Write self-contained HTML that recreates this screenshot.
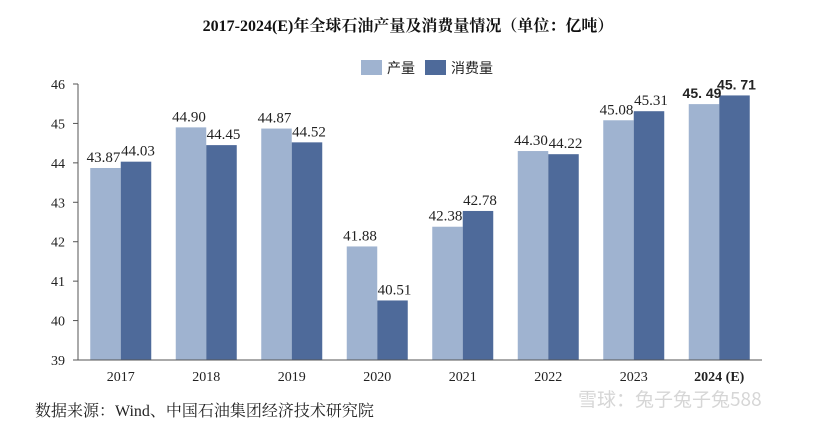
<!DOCTYPE html>
<html><head><meta charset="utf-8"><style>
body{margin:0;background:#fff;width:816px;height:425px;overflow:hidden;font-family:"Liberation Serif","Noto Serif CJK SC",serif;}
</style></head><body>
<svg width="816" height="425" xmlns="http://www.w3.org/2000/svg">
<text x="408" y="31" text-anchor="middle" font-size="16" font-weight="bold" fill="#111">2017-2024(E)年全球石油产量及消费量情况（单位：亿吨）</text>
<g>
<rect x="361" y="60" width="21" height="15" fill="#9fb3d0"/>
<text x="387" y="73" font-size="14" fill="#222" font-family="Noto Sans CJK SC, sans-serif">产量</text>
<rect x="425" y="60" width="21" height="15" fill="#4e6a9a"/>
<text x="451" y="73" font-size="14" fill="#222" font-family="Noto Sans CJK SC, sans-serif">消费量</text>
</g>
<g id="plot"></g>
<text x="35" y="416" font-size="16" fill="#222" font-family="Liberation Serif, Noto Serif CJK SC, serif">数据来源：Wind、中国石油集团经济技术研究院</text>
<text x="578" y="406" font-size="19" fill="#d6d6d6" font-family="Noto Sans CJK SC, sans-serif">雪球：兔子兔子兔588</text>
</svg>
<script>
const categories=["2017","2018","2019","2020","2021","2022","2023","2024(E)"];
const production=[43.87,44.90,44.87,41.88,42.38,44.30,45.08,45.49];
const consumption=[44.03,44.45,44.52,40.51,42.78,44.22,45.31,45.71];
const yTicks=[39,40,41,42,43,44,45,46];
const NS="http://www.w3.org/2000/svg";
const g=document.getElementById('plot');
const x0=78,x1=762,yTop=84,yBot=360,ymin=39,ymax=46;
const band=(x1-x0)/categories.length,bw=30.5;
const y=v=>yBot-(v-ymin)/(ymax-ymin)*(yBot-yTop);
const cx=i=>x0+band*(i+0.5);
function mk(t,a){const e=document.createElementNS(NS,t);for(const k in a)e.setAttribute(k,a[k]);g.appendChild(e);return e;}
yTicks.forEach(v=>{
 const t=mk('text',{x:65,y:y(v)+5,'text-anchor':'end','font-size':14,fill:'#222'});t.textContent=v;
 
 
 const l=mk('line',{x1:x0-5,x2:x0,y1:y(v),y2:y(v),stroke:'#555'});
 
 
});
categories.forEach((c,i)=>{
 const last=i===categories.length-1;
 const p=mk('rect',{x:cx(i)-bw,y:y(production[i]),width:bw,height:yBot-y(production[i]),fill:'#9fb3d0'});
 
 
 const q=mk('rect',{x:cx(i),y:y(consumption[i]),width:bw,height:yBot-y(consumption[i]),fill:'#4e6a9a'});
 
 
 const fam=last?'Liberation Sans, sans-serif':'Liberation Serif, serif';
 const fs=last?14:15;
 const lp=mk('text',{x:cx(i)-bw/2-2,y:y(production[i])-6,'text-anchor':'middle','font-size':fs,fill:'#222','font-weight':last?'bold':'normal','font-family':fam});
 lp.textContent=last?production[i].toFixed(2).replace('.','. '):production[i].toFixed(2);
 
 
 const lc=mk('text',{x:cx(i)+bw/2+2,y:y(consumption[i])-6,'text-anchor':'middle','font-size':fs,fill:'#222','font-weight':last?'bold':'normal','font-family':fam});
 lc.textContent=last?consumption[i].toFixed(2).replace('.','. '):consumption[i].toFixed(2);
 
 
 const xl=mk('text',{x:cx(i),y:381,'text-anchor':'middle','font-size':14,fill:'#222','font-weight':last?'bold':'normal'});
 xl.textContent=last?'2024 (E)':c;
 
 
});
const ya=mk('line',{x1:x0,x2:x0,y1:yTop,y2:yBot,stroke:'#555'});


const xa=mk('line',{x1:x0,x2:x1,y1:yBot,y2:yBot,stroke:'#555'});


</script>
</body></html>
